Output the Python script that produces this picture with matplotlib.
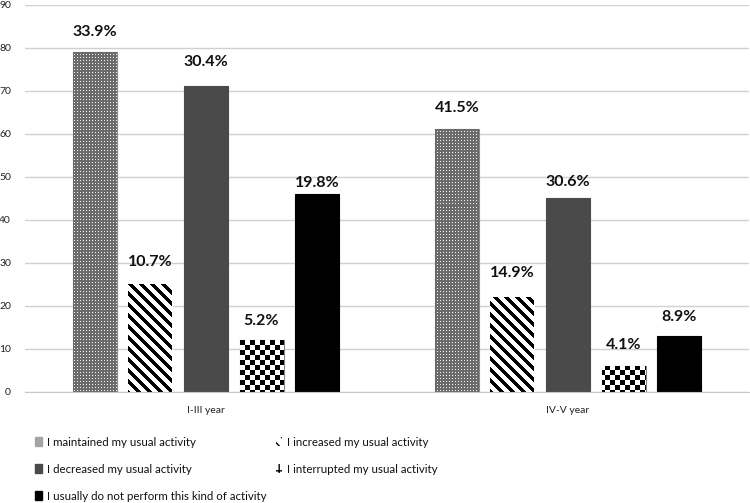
"""Change in usual activity by study year."""
import numpy as np
import matplotlib
matplotlib.use("Agg")
import matplotlib.pyplot as plt
from matplotlib.patches import Patch

plt.rcParams['font.family'] = ['Lato', 'DejaVu Sans']

groups = ["I-III year", "IV-V year"]
series = [
    "I maintained my usual activity",
    "I increased my usual activity",
    "I decreased my usual activity",
    "I interrupted my usual activity",
    "I usually do not perform this kind of activity",
]
counts = [
    [79, 61],
    [25, 22],
    [71, 45],
    [12, 6],
    [46, 13],
]
percents = [
    ["33.9%", "41.5%"],
    ["10.7%", "14.9%"],
    ["30.4%", "30.6%"],
    ["5.2%", "4.1%"],
    ["19.8%", "8.9%"],
]
# where each percentage label sits (y, data units)
label_y = [
    [83.7, 66.0],
    [30.2, 27.7],
    [76.7, 48.8],
    [16.5, 10.9],
    [48.6, 17.4],
]

fig = plt.figure(figsize=(7.5, 5.03), dpi=100)
ax = fig.add_axes([0.0333, 0.2207, 0.9654, 0.770])

x = np.arange(len(groups))
width = 0.1215
step = 0.1535
offsets = (np.arange(len(series)) - 2) * step

ax.set_xlim(-0.5, 1.5)
ax.set_ylim(0, 90)

# textures in screen pixels, clipped to the bars
h, w = 387, 724
yy, xx = np.mgrid[0:h, 0:w]
dots = np.where((yy % 3 == 1) & (xx % 3 == 1), 0.95, 0.42)
checker = np.where(((yy // 5) + (xx // 5)) % 2 == 0, 0.0, 1.0)
stripes = np.where(((xx - yy) % 11) < 5, 0.0, 1.0)

textures = [dots, stripes, None, checker, None]
faces = ['#8a8a8a', 'white', '#4a4a4a', 'white', 'black']
edges = ['#8a8a8a', 'white', '#4a4a4a', '#888888', 'black']

for i in range(len(series)):
    bars = ax.bar(x + offsets[i], counts[i], width, color=faces[i],
                  edgecolor=edges[i], linewidth=0.8, zorder=2)
    tex = textures[i]
    if tex is not None:
        for b in bars:
            im = ax.imshow(tex, cmap='gray', vmin=0, vmax=1,
                           extent=[-0.5, 1.5, 0, 90], aspect='auto',
                           interpolation='nearest', zorder=2.5)
            im.set_clip_path(b)
    for j in range(len(groups)):
        ax.text(x[j] + offsets[i], label_y[i][j], percents[i][j],
                ha='center', va='center', fontsize=11.5, fontweight='bold',
                color='#111111', zorder=4)

ax.set_yticks(np.arange(0, 91, 10))
ax.yaxis.grid(True, color='#d0d0d0', linewidth=1)
ax.set_axisbelow(True)
ax.set_xticks(x)
ax.set_xticklabels(groups)
ax.tick_params(axis='both', length=0, labelsize=7.5, colors='#222222')
ax.tick_params(axis='y', pad=10)
ax.tick_params(axis='x', pad=10)
for s in ['top', 'right', 'left']:
    ax.spines[s].set_visible(False)
ax.spines['bottom'].set_color('#c8c8c8')

handles = [
    Patch(facecolor='#a5a5a5', edgecolor='#a5a5a5', hatch='....'),
    Patch(facecolor='white', edgecolor='black', hatch='\\\\\\', linewidth=0),
    Patch(facecolor='#4a4a4a', edgecolor='#4a4a4a'),
    Patch(facecolor='white', edgecolor='black', hatch='++', linewidth=0),
    Patch(facecolor='black', edgecolor='black'),
]
# legend fills by column, reference reads by row
order = [0, 2, 4, 1, 3]
fig.legend([handles[k] for k in order], [series[k] for k in order],
           loc='upper left', bbox_to_anchor=(0.047, 0.132),
           ncol=2, frameon=False, fontsize=8.3, labelcolor='#111111',
           handlelength=0.6, handleheight=0.8, handletextpad=0.4,
           columnspacing=0.8, labelspacing=1.4, borderaxespad=0,
           borderpad=0)

fig.savefig("out.png", dpi=100)
